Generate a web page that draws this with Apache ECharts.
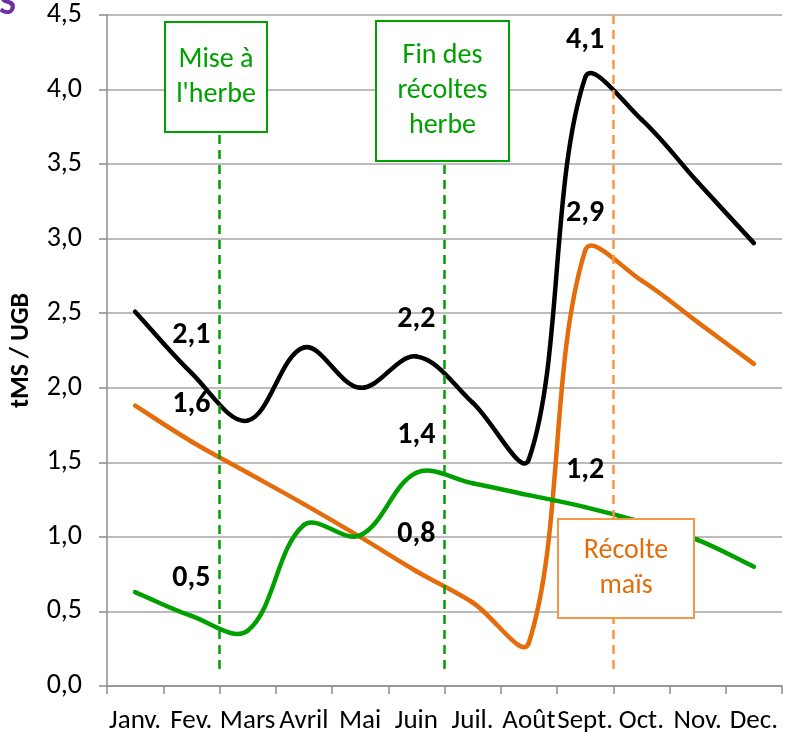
<!DOCTYPE html>
<html>
<head>
<meta charset="utf-8">
<script src="https://cdn.jsdelivr.net/npm/echarts@6/dist/echarts.min.js"></script>
<style>
html,body{margin:0;padding:0;background:#fff;}
#c{width:795px;height:742px;}
</style>
</head>
<body>
<div id="c"></div>
<script>
var months = ['Janv.','Fev.','Mars','Avril','Mai','Juin','Juil.','Août','Sept.','Oct.','Nov.','Dec.'];
var blackSeries  = [2.51, 2.1, 1.78, 2.27, 2.0, 2.21, 1.9, 1.52, 4.08, 3.8, 3.38, 2.97];
var orangeSeries = [1.88, 1.64, 1.43, 1.22, 1.0, 0.77, 0.56, 0.29, 2.92, 2.72, 2.44, 2.16];
var greenSeries  = [0.63, 0.47, 0.37, 1.08, 1.01, 1.43, 1.36, 1.28, 1.2, 1.1, 0.98, 0.8];
var labelIdx = [1, 5, 8];
// event markers at month boundaries (value axis 0..12)
var events = [
  {x: 2, from: 4.4, to: 0.08, color: '#00a000'},
  {x: 6, from: 4.4, to: 0.08, color: '#00a000'},
  {x: 9, from: 4.5, to: 0.08, color: '#f79646'}
];

var FONT = 'Carlito, Lato, sans-serif';
var SMOOTH = 0.36;
var chart = echarts.init(document.getElementById('c'));

function fmt(v){ return v.toFixed(1).replace('.', ','); }

// Excel-like smoothed line drawn through the axis scales
function smoothLine(name, values, color){
  var n = values.length;
  return {
    name: name, type: 'custom', z: 3,
    data: values.map(function(v, i){ return [i, v]; }),
    encode: {x: 0, y: 1},
    silent: true,
    renderItem: function(params, api){
      var i = params.dataIndex;
      function pt(j){ j = Math.max(0, Math.min(n - 1, j)); return api.coord([j, values[j]]); }
      function cps(j){
        var p = pt(j), a = pt(j - 1), b = pt(j + 1);
        var vx = b[0] - a[0], vy = b[1] - a[1];
        var d0 = Math.hypot(p[0] - a[0], p[1] - a[1]);
        var d1 = Math.hypot(b[0] - p[0], b[1] - p[1]);
        var r = (d0 + d1) > 0 ? d1 / (d0 + d1) : 0.5;
        return [
          [p[0] - vx * SMOOTH * (1 - r), p[1] - vy * SMOOTH * (1 - r)],
          [p[0] + vx * SMOOTH * r, p[1] + vy * SMOOTH * r]
        ];
      }
      var children = [];
      if (i < n - 1) {
        var p1 = pt(i), p2 = pt(i + 1);
        var c1 = cps(i)[1], c2 = cps(i + 1)[0];
        children.push({
          type: 'bezierCurve',
          shape: {x1: p1[0], y1: p1[1], x2: p2[0], y2: p2[1],
                  cpx1: c1[0], cpy1: c1[1], cpx2: c2[0], cpy2: c2[1]},
          style: {stroke: color, lineWidth: 4.5, fill: 'none', lineCap: 'round', lineJoin: 'round'}
        });
      }
      if (labelIdx.indexOf(i) >= 0) {
        var p = pt(i);
        children.push({
          type: 'text', z2: 10,
          style: {text: fmt(values[i]), x: p[0], y: p[1] - 37,
                  align: 'center', verticalAlign: 'middle',
                  font: 'bold 30px ' + FONT, fill: '#000'}
        });
      }
      return {type: 'group', children: children};
    }
  };
}

var markData = events.map(function(e){
  return [
    {coord: [e.x, e.from], lineStyle: {color: e.color, type: [9, 6], width: 2.5}},
    {coord: [e.x, e.to]}
  ];
});

function box(left, top, w, h, border, textColor, txt){
  return {
    type: 'group', left: left, top: top, z: 100,
    children: [
      {type: 'rect', shape: {x: 0, y: 0, width: w, height: h},
       style: {fill: '#fff', stroke: border, lineWidth: 2}, z: 100},
      {type: 'text', x: w / 2, y: h / 2, z: 101,
       style: {text: txt, fill: textColor, font: '28px ' + FONT,
               textAlign: 'center', textVerticalAlign: 'middle', lineHeight: 35}}
    ]
  };
}

chart.setOption({
  animation: false,
  backgroundColor: '#fff',
  grid: {left: 102, right: 13, top: 15, bottom: 56, containLabel: false},
  xAxis: [
    {
      type: 'category', data: months, boundaryGap: true,
      axisLine: {lineStyle: {color: '#8c8c8c', width: 1.5}},
      axisTick: {show: true, length: 8, alignWithLabel: false, lineStyle: {color: '#8c8c8c', width: 1.5}},
      axisLabel: {fontFamily: FONT, fontSize: 27, color: '#000', margin: 22, interval: 0}
    },
    {type: 'value', min: 0, max: 12, show: false}
  ],
  yAxis: {
    type: 'value', min: 0, max: 4.5, interval: 0.5,
    name: 'tMS / UGB', nameLocation: 'middle', nameGap: 73, nameRotate: 90,
    nameTextStyle: {fontFamily: FONT, fontWeight: 'bold', fontSize: 26, color: '#000'},
    axisLine: {show: true, lineStyle: {color: '#8c8c8c', width: 1.5}},
    axisTick: {show: true, length: 8, lineStyle: {color: '#8c8c8c', width: 1.5}},
    splitLine: {show: true, lineStyle: {color: '#a6a6a6', width: 1.5}},
    axisLabel: {fontFamily: FONT, fontSize: 28, color: '#000', margin: 25,
                formatter: function(v){ return fmt(v); }}
  },
  series: [
    {
      type: 'line', xAxisIndex: 1, data: [], silent: true,
      markLine: {silent: true, symbol: ['none', 'none'], label: {show: false},
                 animation: false, data: markData},
      z: 2
    },
    smoothLine('Total', blackSeries, '#000000'),
    smoothLine('Maïs', orangeSeries, '#e46c0a'),
    smoothLine('Herbe', greenSeries, '#00a000')
  ],
  graphic: [
    box(164, 21, 102, 110, '#00a000', '#00a000', "Mise à\nl'herbe"),
    box(375, 20, 133, 140, '#00a000', '#00a000', "Fin des\nrécoltes\nherbe"),
    box(557, 518, 136, 99, '#f79646', '#e46c0a', "Récolte\nmaïs"),
    {type: 'text', left: -1, top: -13, z: 100,
     style: {text: 'S', fill: '#7030a0', font: 'bold 36px ' + FONT}}
  ]
});
</script>
</body>
</html>
